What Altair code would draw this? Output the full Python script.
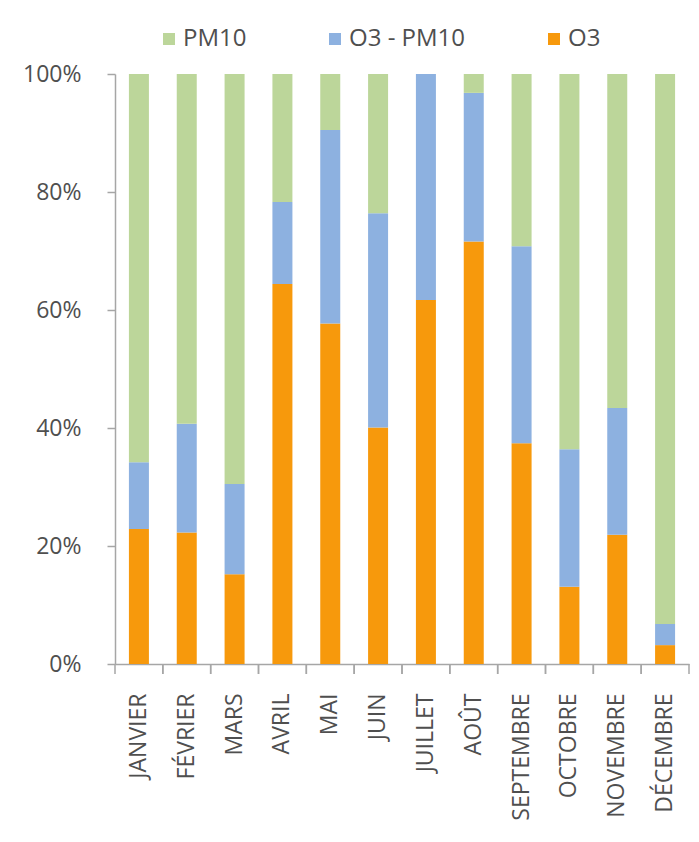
import altair as alt
import pandas as pd

months = ["JANVIER", "FÉVRIER", "MARS", "AVRIL", "MAI", "JUIN", "JUILLET",
          "AOÛT", "SEPTEMBRE", "OCTOBRE", "NOVEMBRE", "DÉCEMBRE"]
o3 = [22.9, 22.3, 15.2, 64.4, 57.7, 40.1, 61.7, 71.6, 37.4, 13.1, 21.9, 3.2]
o3_pm10 = [11.3, 18.4, 15.3, 13.9, 32.8, 36.3, 38.3, 25.2, 33.4, 23.3, 21.5, 3.6]
pm10 = [65.8, 59.3, 69.5, 21.7, 9.5, 23.6, 0.0, 3.2, 29.2, 63.6, 56.6, 93.2]

series_names = ["PM10", "O3 - PM10", "O3"]
series_colors = ["#bcd69a", "#8db1e0", "#f7990c"]

rows = []
for i, m in enumerate(months):
    rows.append({"mois": m, "serie": "O3", "valeur": o3[i], "ordre": 0})
    rows.append({"mois": m, "serie": "O3 - PM10", "valeur": o3_pm10[i], "ordre": 1})
    rows.append({"mois": m, "serie": "PM10", "valeur": pm10[i], "ordre": 2})
df = pd.DataFrame(rows)
df_ticks = pd.DataFrame({"mois": months})

FONT = "Open Sans"
TXT = "#4f4f4f"
AX = "#a6a6a6"

x_scale = alt.Scale(paddingInner=0, paddingOuter=0)

bars = alt.Chart(df).mark_bar(size=20).encode(
    x=alt.X("mois:N", sort=months, scale=x_scale, title=None,
            axis=alt.Axis(labelAngle=-90, ticks=False, tickSize=0, labelPadding=29,
                          labelFont=FONT, labelFontSize=23, labelColor=TXT,
                          domainColor=AX, domainWidth=1.5, labelLimit=300)),
    y=alt.Y("valeur:Q", stack="normalize", title=None,
            scale=alt.Scale(domain=[0, 1]),
            axis=alt.Axis(format="%", values=[0, 0.2, 0.4, 0.6, 0.8, 1.0],
                          grid=False, tickSize=8, labelPadding=26,
                          labelFont=FONT, labelFontSize=23, labelColor=TXT,
                          domainColor=AX, tickColor=AX, domainWidth=1.5, tickWidth=1.5)),
    color=alt.Color("serie:N",
                    scale=alt.Scale(domain=series_names, range=series_colors),
                    legend=alt.Legend(title=None, orient="none", direction="horizontal",
                                      legendX=42, legendY=-47, padding=0,
                                      symbolType="square", symbolSize=144,
                                      symbolStrokeWidth=0, labelOffset=2,
                                      columnPadding=76,
                                      labelFont=FONT, labelFontSize=24,
                                      labelColor=TXT)),
    order=alt.Order("ordre:Q"),
)

ticks0 = alt.Chart(df_ticks).mark_rule(color=AX, strokeWidth=1.5).encode(
    x=alt.X("mois:N", sort=months, scale=x_scale, bandPosition=0),
    y=alt.value(590), y2=alt.value(600),
)
ticks1 = alt.Chart(df_ticks).mark_rule(color=AX, strokeWidth=1.5).encode(
    x=alt.X("mois:N", sort=months, scale=x_scale, bandPosition=1),
    y=alt.value(590), y2=alt.value(600),
)

chart = alt.layer(bars, ticks0, ticks1).properties(
    width=574, height=590,
    autosize=alt.AutoSizeParams(type="none"),
    padding={"left": 107, "top": 66, "right": 2, "bottom": 169},
    background="white",
).configure_view(stroke=None)

chart.save("out.html", embed_options={"renderer": "svg", "actions": False})
